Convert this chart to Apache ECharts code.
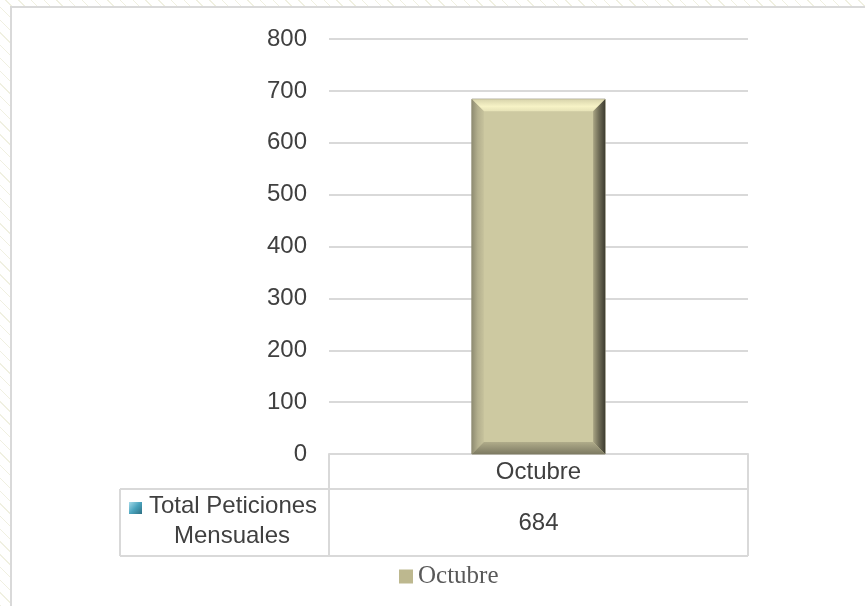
<!DOCTYPE html>
<html>
<head>
<meta charset="utf-8">
<script src="https://cdn.jsdelivr.net/npm/echarts@6/dist/echarts.min.js"></script>
<style>
  html, body { margin:0; padding:0; width:865px; height:606px; overflow:hidden; }
  body {
    background-color:#ffffff;
    background-image: repeating-linear-gradient(45deg, rgba(225,225,195,0.5) 0px, rgba(225,225,195,0.5) 1px, rgba(255,255,255,0) 1px, rgba(255,255,255,0) 9px);
  }
  #panel { position:absolute; left:10px; top:6px; width:900px; height:700px; background:#fff; border-left:2px solid #d9d9d9; border-top:2px solid #d9d9d9; }
  #chart { position:absolute; left:0; top:0; width:865px; height:606px; }
</style>
</head>
<body>
<div id="panel"></div>
<div id="chart"></div>
<script>
const categories = ['Octubre'];
const seriesName = 'Total Peticiones Mensuales';
const seriesLabelLines = ['Total Peticiones', 'Mensuales'];
const values = [684];
const yTicks = [0, 100, 200, 300, 400, 500, 600, 700, 800];

const GRID_LEFT = 329, GRID_RIGHT = 117, GRID_TOP = 39, GRID_BOTTOM = 152;
const TABLE_LEFT = 120, ROW1_BOTTOM = 489, ROW2_BOTTOM = 556;
const LINE = '#d9d9d9';
const TXT = '#404040';
const SANS = 'Liberation Sans, Arial, sans-serif';
const FS = 24;

const chart = echarts.init(document.getElementById('chart'), null, {renderer:'canvas'});

function bevelBar(params, api) {
  const x = api.value(0);
  const top = api.coord([x, api.value(1)]);
  const base = api.coord([x, 0]);
  const bw = api.size([1, 0])[0] * 0.318;
  const l = top[0] - bw / 2, r = top[0] + bw / 2, t = top[1], b = base[1];
  const d = 12;
  return {
    type: 'group',
    children: [
      {type:'rect', shape:{x:l, y:t, width:r-l, height:b-t}, style:{fill:'#cdc9a1', stroke:'#8f8c74', lineWidth:1}},
      {type:'polygon', shape:{points:[[l,t],[r,t],[r-d,t+d],[l+d,t+d]]},
        style:{fill:new echarts.graphic.LinearGradient(0,0,0,1,[{offset:0,color:'#d8d4ac'},{offset:0.6,color:'#f7f3c6'},{offset:1,color:'#e6e2b7'}])}},
      {type:'polygon', shape:{points:[[l,t],[l+d,t+d],[l+d,b-d],[l,b]]},
        style:{fill:new echarts.graphic.LinearGradient(0,0,1,0,[{offset:0,color:'#8f8c72'},{offset:0.5,color:'#b4b08e'},{offset:1,color:'#c6c29c'}])}},
      {type:'polygon', shape:{points:[[r,t],[r,b],[r-d,b-d],[r-d,t+d]]},
        style:{fill:new echarts.graphic.LinearGradient(0,0,1,0,[{offset:0,color:'#a9a584'},{offset:0.5,color:'#6e6b56'},{offset:1,color:'#3e3d31'}])}},
      {type:'polygon', shape:{points:[[l,b],[l+d,b-d],[r-d,b-d],[r,b]]},
        style:{fill:new echarts.graphic.LinearGradient(0,0,0,1,[{offset:0,color:'#b0ac8a'},{offset:1,color:'#7d7a62'}])}}
    ]
  };
}

chart.setOption({
  backgroundColor: 'transparent',
  animation: false,
  grid: {left: GRID_LEFT, right: GRID_RIGHT, top: GRID_TOP, bottom: GRID_BOTTOM, containLabel: false},
  legend: {
    top: 559, left: 394,
    data: [categories[0]],
    itemWidth: 14, itemHeight: 14, itemGap: 5,
    icon: 'rect',
    textStyle: {fontFamily: 'Liberation Serif, Times New Roman, serif', fontSize: 25, color: '#595959'}
  },
  xAxis: {
    type: 'category', data: categories,
    axisLine: {show: true, lineStyle: {color: LINE, width: 2}},
    axisTick: {show: false},
    axisLabel: {fontFamily: SANS, fontSize: FS, color: TXT, margin: 6},
    splitLine: {show: false}
  },
  yAxis: {
    type: 'value', min: yTicks[0], max: yTicks[yTicks.length-1], interval: yTicks[1]-yTicks[0],
    axisLine: {show: false}, axisTick: {show: false},
    axisLabel: {fontFamily: SANS, fontSize: FS, color: TXT, margin: 22},
    splitLine: {lineStyle: {color: LINE, width: 2}}
  },
  series: [{
    name: categories[0],
    type: 'custom',
    renderItem: bevelBar,
    itemStyle: {color: '#bdb88f'},
    encode: {x: 0, y: 1},
    data: categories.map((c, i) => [i, values[i]])
  }]
});

// data table drawn beneath the axis
const axisY = chart.convertToPixel({yAxisIndex: 0}, 0);
const rightX = chart.getWidth() - GRID_RIGHT;
const cx = chart.convertToPixel({xAxisIndex: 0}, categories[0]);
const ln = (x1, y1, x2, y2) => ({type:'line', shape:{x1, y1, x2, y2}, style:{stroke: LINE, lineWidth: 2}, silent: true});
chart.setOption({
  graphic: [
    ln(GRID_LEFT, axisY, GRID_LEFT, ROW2_BOTTOM),
    ln(rightX, axisY, rightX, ROW2_BOTTOM),
    ln(TABLE_LEFT, ROW1_BOTTOM, rightX, ROW1_BOTTOM),
    ln(TABLE_LEFT, ROW2_BOTTOM, rightX, ROW2_BOTTOM),
    ln(TABLE_LEFT, ROW1_BOTTOM, TABLE_LEFT, ROW2_BOTTOM),
    {type:'rect', shape:{x: 129, y: 502, width: 13, height: 12},
      style:{fill: new echarts.graphic.LinearGradient(0,0,1,1,[{offset:0,color:'#a6dbea'},{offset:0.5,color:'#4aa3bd'},{offset:1,color:'#2e6f82'}])}},
    {type:'text', x: 149, y: 506, style:{text: seriesLabelLines[0], fontFamily: SANS, fontSize: FS, fill: TXT, align:'left', verticalAlign:'middle'}},
    {type:'text', x: 232, y: 536, style:{text: seriesLabelLines[1], fontFamily: SANS, fontSize: FS, fill: TXT, align:'center', verticalAlign:'middle'}},
    {type:'text', x: cx, y: 523, style:{text: String(values[0]), fontFamily: SANS, fontSize: FS, fill: TXT, align:'center', verticalAlign:'middle'}}
  ]
});
</script>
</body>
</html>
